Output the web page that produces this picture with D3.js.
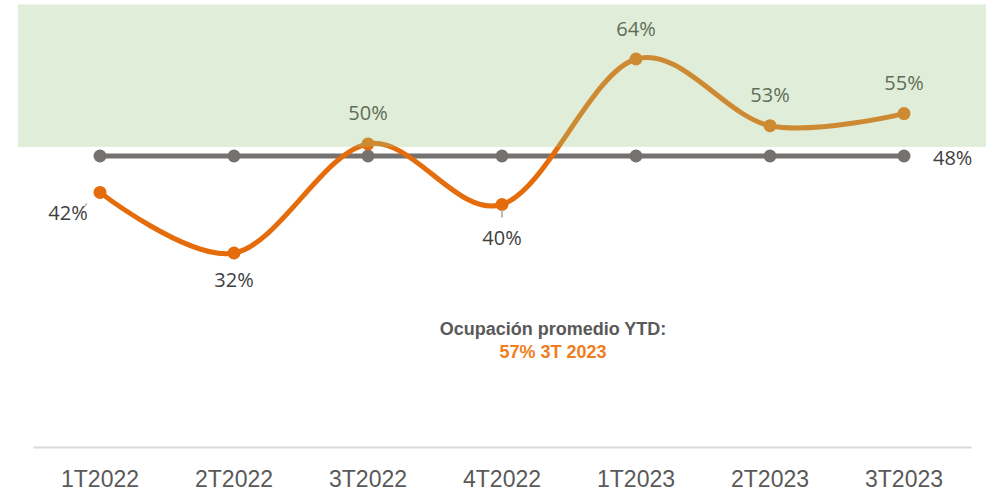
<!DOCTYPE html>
<html>
<head>
<meta charset="utf-8">
<script src="https://cdn.jsdelivr.net/npm/d3@7"></script>
<style>
  html, body { margin: 0; padding: 0; background: #ffffff; }
  svg { display: block; }
</style>
</head>
<body>
<div id="chart"></div>
<script>
// ---- data ----
const categories = ["1T2022", "2T2022", "3T2022", "4T2022", "1T2023", "2T2023", "3T2023"];
const occupancy = [0.42, 0.32, 0.50, 0.40, 0.64, 0.53, 0.55];
const average = [0.48, 0.48, 0.48, 0.48, 0.48, 0.48, 0.48];
const labelPlacement = ["left", "below", "above", "belowLeader", "above", "above", "above"];
const targetBand = [0.495, 0.73];
const noteTitle = "Ocupación promedio YTD:";
const noteValue = "57% 3T 2023";

// ---- layout ----
const W = 986, H = 492;
const svg = d3.select("#chart").append("svg").attr("width", W).attr("height", H);

const x = d3.scaleBand().domain(categories).range([33, 971]).paddingInner(0).paddingOuter(0);
const cx = d => x(d) + x.bandwidth() / 2;
const y = d3.scaleLinear().domain([0, 0.7]).range([447, 447 - 0.7 * 606.25]);

const fmt = d3.format(".0%");

// axis
const xAxis = d3.axisBottom(x).tickSize(0).tickPadding(0);
const gx = svg.append("g").attr("transform", `translate(0,${y(0)})`).call(xAxis);
gx.select(".domain").attr("stroke", "#d9d9d9").attr("stroke-width", 2);
gx.selectAll(".tick text")
  .attr("dy", 0)
  .attr("y", 40)
  .attr("font-family", "'Liberation Sans Narrow', 'Liberation Sans', sans-serif")
  .attr("font-size", 23)
  .attr("fill", "#595959");

const curve = d3.curveCardinal.tension(0);

// average line
const avgLine = d3.line().x((d, i) => cx(categories[i])).y(d => y(d));
svg.append("path").datum(average)
  .attr("d", avgLine)
  .attr("fill", "none").attr("stroke", "#767171").attr("stroke-width", 5);
svg.selectAll(".avgpt").data(average).join("circle")
  .attr("cx", (d, i) => cx(categories[i])).attr("cy", d => y(d)).attr("r", 6.5)
  .attr("fill", "#767171");

// occupancy line
const occLine = d3.line().x((d, i) => cx(categories[i])).y(d => y(d)).curve(curve);
svg.append("path").datum(occupancy)
  .attr("d", occLine)
  .attr("fill", "none").attr("stroke", "#E46C0A").attr("stroke-width", 5)
  .attr("stroke-linecap", "round");
svg.selectAll(".occpt").data(occupancy).join("circle")
  .attr("cx", (d, i) => cx(categories[i])).attr("cy", d => y(d)).attr("r", 6.5)
  .attr("fill", "#E46C0A");

// leader lines
svg.append("line")
  .attr("x1", cx(categories[3])).attr("x2", cx(categories[3]))
  .attr("y1", y(occupancy[3]) + 5).attr("y2", y(occupancy[3]) + 13)
  .attr("stroke", "#a6a6a6").attr("stroke-width", 1.5);
svg.append("line")
  .attr("x1", cx(categories[0]) - 17).attr("x2", cx(categories[0]) - 13)
  .attr("y1", y(occupancy[0]) + 16).attr("y2", y(occupancy[0]) + 11)
  .attr("stroke", "#a6a6a6").attr("stroke-width", 1.2);

// data labels
const lblFont = "'Open Sans', 'Noto Sans', sans-serif";
svg.selectAll(".occlbl").data(occupancy).join("text")
  .attr("x", (d, i) => {
    const p = labelPlacement[i];
    return p === "left" ? cx(categories[i]) - 32 : cx(categories[i]);
  })
  .attr("y", (d, i) => {
    const p = labelPlacement[i];
    const yy = y(d);
    if (p === "above") return yy - 31;
    if (p === "below") return yy + 26;
    if (p === "belowLeader") return yy + 33;
    return yy + 20;
  })
  .attr("text-anchor", "middle")
  .attr("dominant-baseline", "central")
  .attr("font-family", lblFont).attr("font-size", 20)
  .attr("fill", "#404040")
  .text(d => fmt(d));

svg.append("text")
  .attr("x", cx(categories[categories.length - 1]) + 29)
  .attr("y", y(average[average.length - 1]) + 1)
  .attr("dominant-baseline", "central")
  .attr("font-family", lblFont).attr("font-size", 20)
  .attr("fill", "#404040")
  .text(fmt(average[average.length - 1]));

// target band overlay (semi-transparent, on top of the line)
const bandX0 = cx(categories[0]) - 82;
const bandX1 = cx(categories[categories.length - 1]) + 82;
svg.append("rect")
  .attr("x", bandX0).attr("y", y(targetBand[1]))
  .attr("width", bandX1 - bandX0).attr("height", y(targetBand[0]) - y(targetBand[1]))
  .attr("fill", "#A1C889").attr("fill-opacity", 0.33);

// annotation
const note = svg.append("text")
  .attr("x", 553).attr("y", 335)
  .attr("text-anchor", "middle")
  .attr("font-family", "'Liberation Sans', Arial, sans-serif")
  .attr("font-weight", "bold").attr("font-size", 18);
note.append("tspan").attr("x", 553).attr("fill", "#595959").text(noteTitle);
note.append("tspan").attr("x", 553).attr("dy", 23).attr("fill", "#F07E1E").text(noteValue);
</script>
</body>
</html>
